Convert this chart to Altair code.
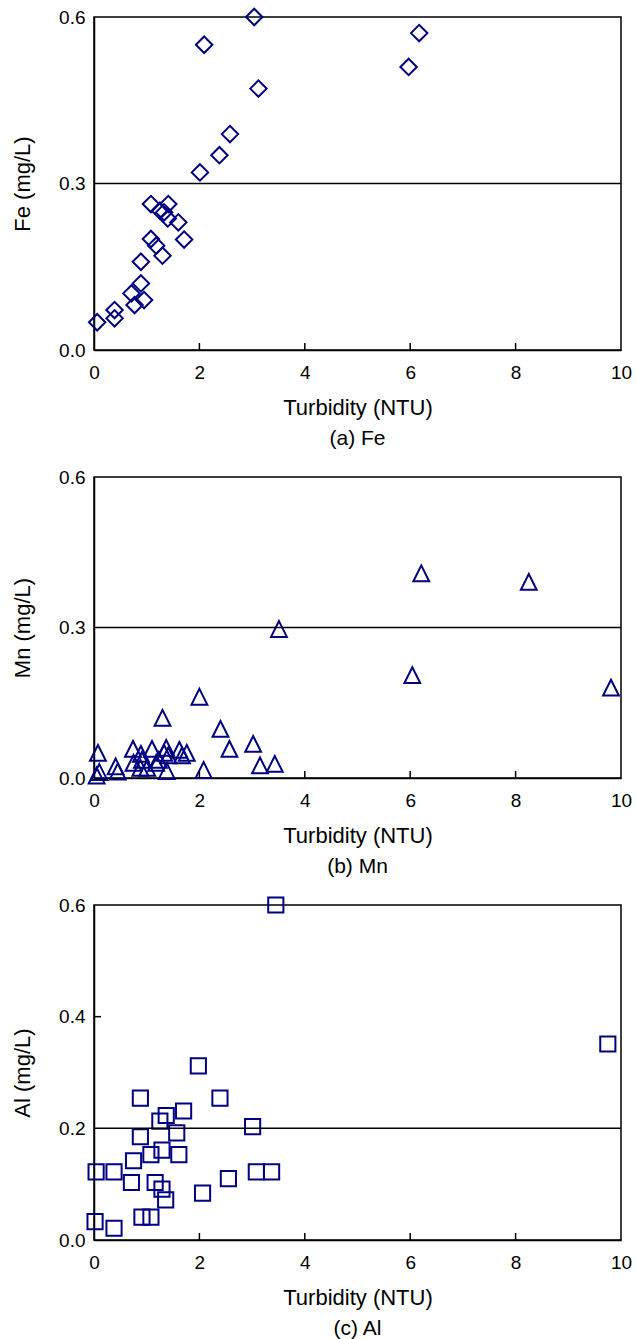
import altair as alt
import pandas as pd

NAVY = "#000080"
FONT = "Liberation Sans"

# Turbidity (NTU) and metal concentration (mg/L) for each panel
fe_turbidity = [0.06, 0.39, 0.39, 0.71, 0.77, 0.89, 0.95, 0.89, 1.08, 1.18, 1.30, 1.08, 1.25,
                1.33, 1.41, 1.40, 1.60, 1.71, 2.01, 2.38, 2.58, 2.09, 3.04, 3.12, 5.97, 6.17]
fe_conc = [0.050, 0.072, 0.057, 0.102, 0.081, 0.120, 0.090, 0.159, 0.200, 0.188, 0.170, 0.263, 0.251,
           0.248, 0.263, 0.237, 0.230, 0.199, 0.320, 0.351, 0.389, 0.550, 0.600, 0.471, 0.510, 0.571]

mn_turbidity = [0.05, 0.10, 0.075, 0.41, 0.45, 0.74, 0.89, 0.75, 0.91, 1.10, 1.23, 1.01, 0.88, 1.37,
                1.33, 1.41, 1.38, 1.62, 1.76, 1.67, 1.18, 1.30, 2.00, 2.08, 2.40, 2.57, 3.02, 3.15,
                3.43, 3.51, 6.04, 6.21, 8.25, 9.81]
mn_conc = [0.005, 0.012, 0.050, 0.023, 0.013, 0.058, 0.048, 0.030, 0.036, 0.058, 0.036, 0.020, 0.020,
           0.060, 0.050, 0.045, 0.014, 0.056, 0.050, 0.045, 0.030, 0.120, 0.162, 0.016, 0.098, 0.058,
           0.068, 0.025, 0.028, 0.297, 0.205, 0.408, 0.391, 0.180]

al_turbidity = [0.04, 0.38, 0.02, 0.38, 0.71, 0.75, 0.88, 0.88, 1.08, 1.16, 1.29, 1.36, 0.91, 1.08,
                1.25, 1.37, 1.29, 1.57, 1.61, 1.70, 1.98, 2.06, 2.39, 2.55, 3.01, 3.08, 3.37, 3.45, 9.75]
al_conc = [0.122, 0.122, 0.033, 0.021, 0.103, 0.142, 0.185, 0.254, 0.153, 0.103, 0.091, 0.072, 0.041,
           0.041, 0.213, 0.223, 0.161, 0.192, 0.153, 0.231, 0.312, 0.084, 0.254, 0.110, 0.203, 0.122,
           0.122, 0.600, 0.351]

# Guideline value drawn across each panel
limits = [0.3, 0.3, 0.2]

x_ticks = [0, 2, 4, 6, 8, 10]
x_inner_ticks = [2, 4, 6, 8]

WIDTH = 527
TRIANGLE = "M0,-1L1,1L-1,1Z"


def panel(xs, ys, shape, size, ytitle, yticks, y_inner, limit, caption, height):
    df = pd.DataFrame({"turbidity": xs, "conc": ys})
    xscale = alt.Scale(domain=[0, 10], nice=False)
    yscale = alt.Scale(domain=[0, 0.6], nice=False)
    xaxis = alt.Axis(values=x_ticks, format="d", title="Turbidity (NTU)")
    yaxis = alt.Axis(values=yticks, format=".1f", title=ytitle)

    points = alt.Chart(df).mark_point(
        shape=shape, size=size, filled=False, strokeWidth=2, color=NAVY, opacity=1
    ).encode(
        x=alt.X("turbidity:Q", scale=xscale, axis=xaxis),
        y=alt.Y("conc:Q", scale=yscale, axis=yaxis),
    )

    limit_line = alt.Chart(pd.DataFrame({"limit": [limit]})).mark_rule(
        color="black", strokeWidth=1.5
    ).encode(y=alt.Y("limit:Q", scale=yscale, axis=yaxis))

    xt = alt.Chart(pd.DataFrame({"t": x_inner_ticks})).mark_rule(
        color="black", strokeWidth=1.5
    ).encode(x=alt.X("t:Q", scale=xscale, axis=xaxis),
             y=alt.value(height), y2=alt.value(height - 7))

    layers = [limit_line, xt]
    if y_inner:
        yt = alt.Chart(pd.DataFrame({"t": y_inner})).mark_rule(
            color="black", strokeWidth=1.5
        ).encode(y=alt.Y("t:Q", scale=yscale, axis=yaxis),
                 x=alt.value(0), x2=alt.value(7))
        layers.append(yt)

    return alt.layer(points, *layers).properties(
        width=WIDTH,
        height=height,
        title=alt.TitleParams(caption, orient="bottom", font=FONT, fontSize=21,
                              fontWeight="normal", color="black", offset=10),
    )


fe_panel = panel(fe_turbidity, fe_conc, "diamond", 270, "Fe (mg/L)",
                 [0, 0.3, 0.6], [], limits[0], "(a) Fe", 333)
mn_panel = panel(mn_turbidity, mn_conc, TRIANGLE, 250, "Mn (mg/L)",
                 [0, 0.3, 0.6], [], limits[1], "(b) Mn", 301)
al_panel = panel(al_turbidity, al_conc, "square", 230, "Al (mg/L)",
                 [0, 0.2, 0.4, 0.6], [0.4], limits[2], "(c) Al", 335)

chart = alt.vconcat(
    fe_panel, mn_panel, al_panel, spacing=127, bounds="flush"
).properties(
    padding={"left": 10, "top": 4, "right": 3, "bottom": 0},
    background="white",
).configure_view(
    stroke="black", strokeWidth=1.5
).configure_axis(
    domainColor="black", domainWidth=1.5, ticks=False, grid=False,
    labelFont=FONT, labelFontSize=19, labelColor="black",
    titleFont=FONT, titleFontSize=22, titleFontWeight="normal", titleColor="black",
).configure_axisX(
    labelPadding=13, titlePadding=15, labelFlush=False
).configure_axisY(
    labelPadding=9, titlePadding=24
)

chart.save("out.html", embed_options={"renderer": "svg", "actions": False})
